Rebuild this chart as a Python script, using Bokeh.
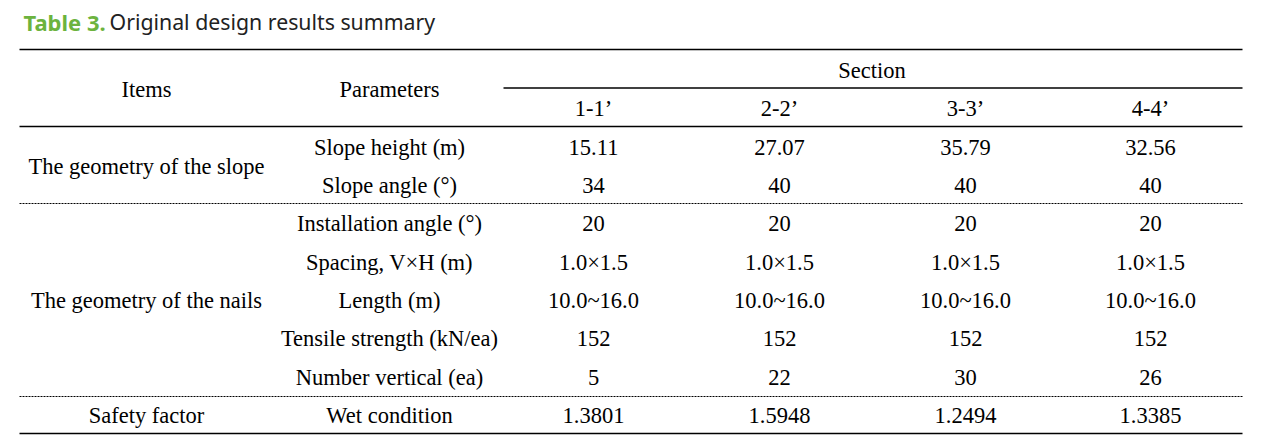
from bokeh.plotting import figure
from bokeh.models import Range1d, ColumnDataSource
from bokeh.core.properties import value
from bokeh.embed import file_html
from bokeh.resources import INLINE

# ---- data ----
title_num = "Table 3."
title_text = "Original design results summary"
header_items = "Items"
header_params = "Parameters"
header_section = "Section"
sections = ["1-1\u2019", "2-2\u2019", "3-3\u2019", "4-4\u2019"]
groups = ["The geometry of the slope", "The geometry of the nails", "Safety factor"]
group_rows = [[0, 1], [2, 3, 4, 5, 6], [7]]
parameters = ["Slope height (m)", "Slope angle (\u00b0)", "Installation angle (\u00b0)",
              "Spacing, V\u00d7H (m)", "Length (m)", "Tensile strength (kN/ea)",
              "Number vertical (ea)", "Wet condition"]
sec_1 = ["15.11", "34", "20", "1.0\u00d71.5", "10.0~16.0", "152", "5", "1.3801"]
sec_2 = ["27.07", "40", "20", "1.0\u00d71.5", "10.0~16.0", "152", "22", "1.5948"]
sec_3 = ["35.79", "40", "20", "1.0\u00d71.5", "10.0~16.0", "152", "30", "1.2494"]
sec_4 = ["32.56", "40", "20", "1.0\u00d71.5", "10.0~16.0", "152", "26", "1.3385"]
section_values = [sec_1, sec_2, sec_3, sec_4]

# ---- layout ----
W, H = 1254, 440
p = figure(width=W, height=H, output_backend="svg", toolbar_location=None,
           x_range=Range1d(0, W), y_range=Range1d(H, 0), min_border=0)
p.axis.visible = False
p.grid.visible = False
p.outline_line_color = None
p.background_fill_color = "white"
p.border_fill_color = "white"

col_items = 146
col_params = 389
col_secs = [593, 779, 965, 1150]
row_y = [147, 185, 223, 262, 300, 338, 377, 415]
left, right = 19, 1242

serif = value("Liberation Serif")
fs = "22.5px"

# title
p.text(x=[23], y=[21], text=[title_num], text_font=value("Noto Sans"),
       text_font_size="22px", text_font_style="bold", text_color="#6cb33e",
       text_align="left", text_baseline="middle")
p.text(x=[109], y=[21], text=[title_text], text_font=value("Noto Sans"),
       text_font_size="21.3px", text_color="#222222",
       text_align="left", text_baseline="middle")

# rules
p.segment(x0=[left, left, 503, left], y0=[49, 126, 87.5, 433],
          x1=[right, right, right, right], y1=[49, 126, 87.5, 433],
          line_color="black", line_width=1.6)
p.segment(x0=[left, left], y0=[203, 396], x1=[right, right], y1=[203, 396],
          line_color="black", line_width=1.2, line_dash="2 1")

def txt(xs, ys, texts):
    src = ColumnDataSource(dict(x=xs, y=ys, t=texts))
    p.text(x="x", y="y", text="t", source=src, text_font=serif, text_font_size=fs,
           text_color="black", text_align="center", text_baseline="middle")

# headers
txt([col_items, col_params], [89, 89], [header_items, header_params])
txt([(col_secs[0] + col_secs[-1]) / 2], [70], [header_section])
txt(col_secs, [108] * 4, sections)

# group labels
gx, gy = [], []
for g, rows in zip(groups, group_rows):
    gx.append(col_items)
    gy.append(sum(row_y[r] for r in rows) / len(rows))
txt(gx, gy, groups)

# parameters
txt([col_params] * len(parameters), row_y, parameters)

# values
for cx, vals in zip(col_secs, section_values):
    txt([cx] * len(vals), row_y, vals)

open("out.html", "w").write(file_html(p, INLINE))
